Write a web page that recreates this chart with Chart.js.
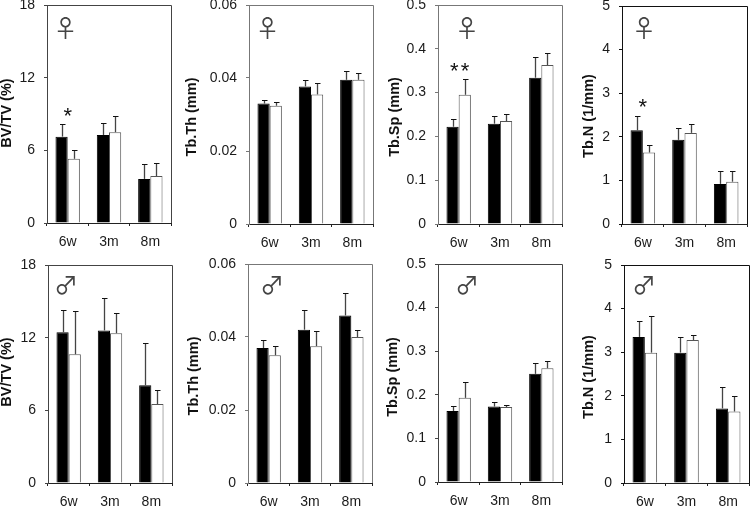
<!DOCTYPE html>
<html><head><meta charset="utf-8">
<script src="https://cdn.jsdelivr.net/npm/chart.js@4"></script>
<style>html,body{margin:0;padding:0;background:#fff;width:750px;height:506px;overflow:hidden}canvas{position:absolute}</style>
</head><body>
<script>
const categories=['6w','3m','8m'];
const ticksBV=['0','6','12','18'], ticksTh=['0','0.02','0.04','0.06'], ticksSp=['0','0.1','0.2','0.3','0.4','0.5'], ticksN=['0','1','2','3','4','5'];
// Female
const bvF_black=[7.13,7.27,3.64], bvF_white=[5.3,7.5,3.88], bvF_blackTop=[8.2,8.26,4.85], bvF_whiteTop=[6.03,8.8,4.96];
const thF_black=[.033,.0377,.0395], thF_white=[.0324,.0355,.0395], thF_blackTop=[.0339,.0394,.042], thF_whiteTop=[.0333,.0386,.0414];
const spF_black=[.222,.229,.334], spF_white=[.295,.235,.363], spF_blackTop=[.24,.246,.382], spF_whiteTop=[.33,.251,.391];
const nF_black=[2.15,1.93,.92], nF_white=[1.64,2.09,.97], nF_blackTop=[2.47,2.2,1.22], nF_whiteTop=[1.82,2.29,1.21];
// Male
const bvM_black=[12.45,12.6,8.07], bvM_white=[10.63,12.37,6.52], bvM_blackTop=[14.3,15.27,11.52], bvM_whiteTop=[14.17,14.06,7.65];
const thM_black=[.037,.042,.0459], thM_white=[.035,.0375,.04], thM_blackTop=[.0393,.0474,.052], thM_whiteTop=[.0375,.0416,.0419];
const spM_black=[.163,.173,.248], spM_white=[.193,.172,.261], spM_blackTop=[.174,.184,.274], spM_whiteTop=[.229,.176,.278];
const nM_black=[3.35,2.99,1.71], nM_white=[2.99,3.28,1.64], nM_blackTop=[3.71,3.35,2.2], nM_whiteTop=[3.84,3.39,2.0];

const FONT='"Liberation Sans", Arial, sans-serif';
const panels=[
 {t:'BV/TV (%)',tk:ticksBV,max:18,step:6,d:[bvF_black,bvF_white,bvF_blackTop,bvF_whiteTop],g:'♀',gx:18.5,gy:23,r:0,L:47,R:171,T:5,B:223,tc:7,ty:113,fc:'#444',star:'*',sv:9.05},
 {t:'Tb.Th (mm)',tk:ticksTh,max:.06,step:.02,d:[thF_black,thF_white,thF_blackTop,thF_whiteTop],g:'♀',gx:18.5,gy:23,r:0,L:249,R:373,T:5,B:224,tc:192,ty:117,fc:'#777'},
 {t:'Tb.Sp (mm)',tk:ticksSp,max:.5,step:.1,d:[spF_black,spF_white,spF_blackTop,spF_whiteTop],g:'♀',gx:29,gy:23,r:0,L:438,R:562,T:5,B:224,tc:395,ty:117,fc:'#777',star:'* *',sv:.357},
 {t:'Tb.N (1/mm)',tk:ticksN,max:5,step:1,d:[nF_black,nF_white,nF_blackTop,nF_whiteTop],g:'♀',gx:22,gy:22,r:0,L:622,R:747,T:6,B:224,tc:589,ty:116,fc:'#111',star:'*',sv:2.76},
 {t:'BV/TV (%)',tk:ticksBV,max:18,step:6,d:[bvM_black,bvM_white,bvM_blackTop,bvM_whiteTop],g:'♂',gx:18,gy:20,r:1,L:48,R:172,T:265,B:483,tc:7,ty:372,fc:'#444'},
 {t:'Tb.Th (mm)',tk:ticksTh,max:.06,step:.02,d:[thM_black,thM_white,thM_blackTop,thM_whiteTop],g:'♂',gx:24,gy:21,r:1,L:248,R:372,T:264,B:483,tc:194,ty:376,fc:'#777'},
 {t:'Tb.Sp (mm)',tk:ticksSp,max:.5,step:.1,d:[spM_black,spM_white,spM_blackTop,spM_whiteTop],g:'♂',gx:29,gy:21,r:1,L:438,R:562,T:264,B:482,tc:393,ty:377,fc:'#444'},
 {t:'Tb.N (1/mm)',tk:ticksN,max:5,step:1,d:[nM_black,nM_white,nM_blackTop,nM_whiteTop],g:'♂',gx:20,gy:20,r:1,L:624,R:749,T:265,B:483,tc:589,ty:377,fc:'#111'}
];
const decor={id:'decor',
 afterDatasetsDraw(c,a,o){
  const x=c.scales.x,y=c.scales.y,ctx=c.ctx,ca=c.chartArea,p=o.p,rowTop=p.r?253:0;
  ctx.save();
  ctx.lineWidth=1;ctx.strokeStyle=p.fc;ctx.beginPath();
  ctx.moveTo(ca.left,ca.top+.5);ctx.lineTo(ca.right+.5,ca.top+.5);ctx.lineTo(ca.right+.5,ca.bottom);ctx.stroke();
  [0,1].forEach(ds=>{
   const m=c.getDatasetMeta(ds).data;
   p.d[ds+2].forEach((v,i)=>{
    const px=Math.round(m[i].x)+.5,top=Math.round(y.getPixelForValue(v))+.5,base=y.getPixelForValue(p.d[ds][i]);
    ctx.strokeStyle='#444';ctx.lineWidth=1.3;ctx.beginPath();ctx.moveTo(px,base);ctx.lineTo(px,top);ctx.stroke();
    ctx.strokeStyle='#111';ctx.lineWidth=1;ctx.beginPath();ctx.moveTo(px-2.5,top);ctx.lineTo(px+3,top);ctx.stroke();
   });
  });
  ctx.fillStyle='#444';ctx.font='24px "Noto Sans CJK JP"';ctx.textAlign='center';ctx.textBaseline='middle';
  ctx.fillText(p.g,ca.left+p.gx,ca.top+p.gy);
  if(p.star){ctx.fillStyle='#111';ctx.font='22px '+FONT;ctx.textBaseline='middle';
   ctx.letterSpacing=p.star.length>1?'-2px':'0px';
   ctx.fillText(p.star,x.getPixelForValue(0),y.getPixelForValue(p.sv)+4);
   ctx.letterSpacing='0px';}
  ctx.translate(9,p.ty-rowTop);ctx.rotate(-Math.PI/2);
  ctx.fillStyle='#111';ctx.font='bold 14.5px '+FONT;ctx.fillText(p.t,0,0);
  ctx.restore();
 }};
panels.forEach(p=>{
 const W=p.L-p.tc+9, left=p.tc-9, rowTop=p.r?253:0, h=253, w=p.R-p.L+W+2;
 const cv=document.createElement('canvas');cv.width=w;cv.height=h;
 cv.style.left=left+'px';cv.style.top=rowTop+'px';cv.style.width=w+'px';cv.style.height=h+'px';
 document.body.appendChild(cv);
 new Chart(cv,{type:'bar',
  data:{labels:categories,datasets:[
   {data:p.d[0],backgroundColor:'#000',borderColor:'#000',borderWidth:1,barPercentage:1,categoryPercentage:.59},
   {data:p.d[1],backgroundColor:'#fff',borderColor:'#555',borderWidth:1,barPercentage:1,categoryPercentage:.59}]},
  plugins:[decor],
  options:{responsive:false,animation:false,
   layout:{padding:{top:p.T-rowTop,right:2,left:0,bottom:0}},
   plugins:{legend:{display:false},tooltip:{enabled:false},decor:{p}},
   scales:{
    x:{offset:true,grid:{offset:true,drawOnChartArea:false,tickLength:3,color:p.fc,tickColor:'#222'},border:{color:'#222'},
       ticks:{font:{family:FONT,size:14},color:'#1a1a1a',padding:8,maxRotation:0},
       afterFit(s){s.height=rowTop+h-p.B;s.paddingLeft=0;s.paddingRight=0}},
    y:{min:0,max:p.max,grid:{drawOnChartArea:false,tickLength:3,color:p.fc,tickColor:p.fc},border:{color:p.fc},
       ticks:{stepSize:p.step,autoSkip:false,padding:9,font:{family:FONT,size:14},color:'#1a1a1a',callback:(v,i)=>p.tk[i]},
       afterFit(s){s.width=W;s.paddingTop=0;s.paddingBottom=0}}
   }}});
});
</script>
</body></html>
